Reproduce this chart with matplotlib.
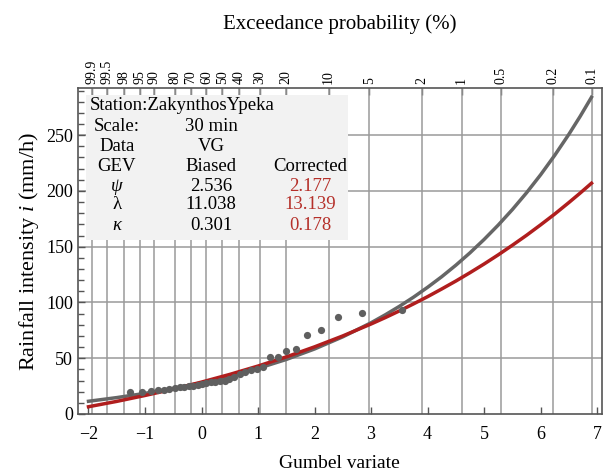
import numpy as np
import matplotlib
matplotlib.use('Agg')
import matplotlib.pyplot as plt
from matplotlib.patches import Rectangle

plt.rcParams['font.family'] = ['Liberation Serif', 'DejaVu Serif']
plt.rcParams['mathtext.fontset'] = 'custom'
plt.rcParams['mathtext.rm'] = 'Liberation Serif'
plt.rcParams['mathtext.it'] = 'Liberation Serif:italic'

# Gumbel reduced variate grid for the fitted curves
curve_x = [-2.0, -1.5, -1.0, -0.5, 0.0, 0.5, 1.0, 1.5, 2.0, 2.5, 3.0, 3.25,
           3.5, 3.75, 4.0, 4.25, 4.5, 4.75, 5.0, 5.25, 5.5, 5.75, 6.0, 6.25,
           6.5, 6.7, 6.9]
# GEV fitted with biased VG estimates (gray)
biased_y = [11.4, 14.7, 18.5, 22.9, 28.0, 34.0, 40.9, 48.9, 58.3, 69.2, 81.8,
            88.9, 96.5, 104.7, 113.6, 123.1, 133.4, 144.5, 156.5, 169.4, 183.3,
            198.3, 214.5, 232.0, 250.8, 266.9, 284.0]
# GEV fitted with corrected estimates (red)
corrected_y = [6.5, 11.3, 16.6, 22.3, 28.6, 35.5, 43.0, 51.2, 60.2, 70.0, 80.7,
               86.4, 92.4, 98.7, 105.2, 112.1, 119.2, 126.7, 134.5, 142.7,
               151.3, 160.2, 169.6, 179.3, 189.6, 198.1, 206.9]

# observed annual maxima (Gumbel variate, intensity)
obs_x = [-1.268, -1.052, -0.899, -0.774, -0.666, -0.567, -0.476, -0.389,
         -0.306, -0.225, -0.146, -0.068, 0.010, 0.087, 0.166, 0.245, 0.325,
         0.408, 0.493, 0.581, 0.672, 0.767, 0.868, 0.975, 1.089, 1.213,
         1.349, 1.500, 1.671, 1.870, 2.109, 2.412, 2.833, 3.541]
obs_y = [19.4, 19.8, 20.5, 21.3, 21.8, 22.5, 23.2, 23.8, 24.3, 24.8, 25.4,
         26.0, 27.3, 28.0, 28.5, 29.0, 29.5, 30.0, 31.0, 33.0, 36.0, 37.9,
         39.2, 40.3, 42.5, 51.0, 51.2, 56.7, 58.0, 70.5, 75.3, 86.6, 90.8, 93.2]

exceed_prob = [99.9, 99.5, 98, 95, 90, 80, 70, 60, 50, 40, 30, 20, 10, 5, 2,
               1, 0.5, 0.2, 0.1]
exceed_labels = ['99.9', '99.5', '98', '95', '90', '80', '70', '60', '50',
                 '40', '30', '20', '10', '5', '2', '1', '0.5', '0.2', '0.1']

gumbel_ticks = [-2, -1, 0, 1, 2, 3, 4, 5, 6, 7]
y_major = [0, 50, 100, 150, 200, 250]

GRAY = '#666666'
RED = '#b01e1e'
RED_TXT = '#b5302a'
GRID = '#9a9a9a'
SPINE = '#555555'

# position of each exceedance probability on the Gumbel axis
prob_pos = -np.log(-np.log(1 - np.array(exceed_prob) / 100.0))

fig = plt.figure(figsize=(6.05, 4.74), dpi=100)
ax = fig.add_axes([0.1289, 0.1266, 0.8656, 0.6871])
ax.set_xlim(-2.186, 7.08)
ax.set_ylim(0, 292)

# grid
ax.vlines(prob_pos, 0, 292, color=GRID, lw=1.1, zorder=1)
ax.hlines(y_major[1:], -2.186, 7.08, color=GRID, lw=1.1, zorder=1)

ax.plot(curve_x, biased_y, color=GRAY, lw=2.5, zorder=3)
ax.plot(curve_x, corrected_y, color=RED, lw=2.5, zorder=4)
ax.plot(obs_x, obs_y, 'o', color='#5f5f5f', ms=5.2, mec='none', zorder=5)

for s in ax.spines.values():
  s.set_color(SPINE)
  s.set_linewidth(1.2)

ax.set_xticks(gumbel_ticks)
ax.set_xticklabels([str(v).replace('-', '\u2212') for v in gumbel_ticks])
ax.set_yticks(y_major)
ax.set_yticks(np.arange(0, 292, 10), minor=True)
ax.tick_params(axis='x', direction='in', length=5, width=1, color=SPINE,
               labelsize=13, pad=9, top=False)
ax.tick_params(axis='y', which='major', direction='in', length=5, width=1,
               color=SPINE, labelsize=13, right=False)
ax.tick_params(axis='y', which='minor', direction='in', length=4, width=1,
               color=SPINE, right=False)

# top probability axis
top = ax.secondary_xaxis('top')
top.set_xticks(prob_pos)
top.set_xticklabels(exceed_labels, rotation=90)
top.tick_params(direction='in', length=5, width=1, color=SPINE, labelsize=10, pad=3)
top.spines['top'].set_visible(False)
top.set_xlabel('Exceedance probability (%)', fontsize=15, labelpad=22)

ax.set_xlabel('Gumbel variate', fontsize=14, labelpad=8)
ax.set_ylabel('Rainfall intensity $i$ (mm/h)', fontsize=16, labelpad=4)

# parameter table
ax.add_patch(Rectangle((0.015, 0.534), 0.50, 0.445, transform=ax.transAxes,
                       facecolor='#f2f2f2', edgecolor='none', zorder=2))
c1, c2, c3 = 0.0745, 0.254, 0.443
tk = dict(transform=ax.transAxes, fontsize=13.5, va='center', ha='center', zorder=6)
ax.text(0.023, 0.946, 'Station:ZakynthosYpeka', **{**tk, 'ha': 'left'})
ax.text(c1, 0.884, 'Scale:', **tk)
ax.text(c2, 0.884, '30 min', **tk)
ax.text(c1, 0.820, 'Data', **tk)
ax.text(c2, 0.820, 'VG', **tk)
ax.text(c1, 0.761, 'GEV', **tk)
ax.text(c2, 0.761, 'Biased', **tk)
ax.text(c3, 0.761, 'Corrected', **tk)
ax.text(c1, 0.700, '\u03c8', style='italic', **tk)
ax.text(c1, 0.642, '\u03bb', **tk)
ax.text(c1, 0.580, '\u03ba', style='italic', **tk)
ax.text(c2, 0.700, '2.536', **tk)
ax.text(c2, 0.642, '11.038', **tk)
ax.text(c2, 0.580, '0.301', **tk)
ax.text(c3, 0.700, '2.177', color=RED_TXT, **tk)
ax.text(c3, 0.642, '13.139', color=RED_TXT, **tk)
ax.text(c3, 0.580, '0.178', color=RED_TXT, **tk)

fig.savefig('out.png', dpi=100)
